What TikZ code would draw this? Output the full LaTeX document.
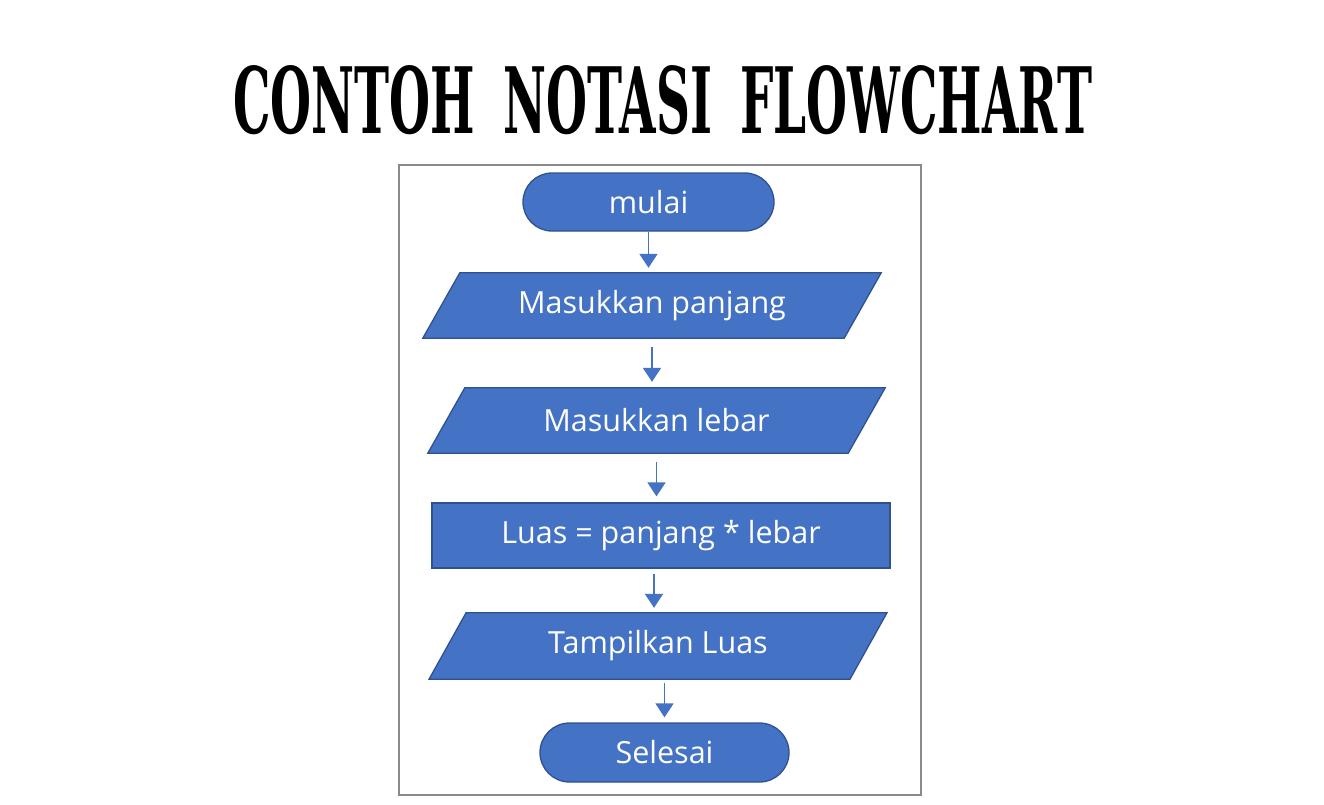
\documentclass[tikz,border=0pt]{standalone}
\usepackage{fontspec}
\usetikzlibrary{arrows.meta}
\setmainfont{Open Sans}
\newfontfamily\titlefont{DejaVu Serif}
\definecolor{ofblue}{HTML}{4472C4}
\definecolor{ofedge}{HTML}{2F528F}
\definecolor{framegray}{HTML}{8A8A8A}
\pgfdeclarelayer{bg}
\pgfsetlayers{bg,main}
\tikzset{
  lbl/.style={text=white,font=\fontsize{30.5}{34}\selectfont,inner sep=0pt},
  term/.style={lbl,rectangle,fill=ofblue,draw=ofedge,line width=1.3pt,rounded corners=29pt,minimum height=58pt},
  procbox/.style={lbl,rectangle,fill=ofblue,draw=ofedge,line width=1.3pt,minimum height=65pt},
  iobox/.style={lbl,rectangle,minimum height=65pt},
  ioshape/.style={fill=ofblue,draw=ofedge,line width=1.3pt,line join=miter},
  arr/.style={draw=ofblue,line width=1.8pt,-{Triangle[length=14pt,width=18pt]}},
}
\begin{document}
\begin{tikzpicture}[x=1pt,y=-1pt]
\useasboundingbox (0,0) rectangle (1324,804);
% title
\node[inner sep=0pt,anchor=north west] (title) at (233,65)
  {\resizebox{859pt}{68pt}{\titlefont\bfseries CONTOH\hspace{0.6em}NOTASI\hspace{0.6em}FLOWCHART}};
% frame
\draw[framegray,line width=2.5pt] (399,165) rectangle (921,795);
% nodes
\node[term,minimum width=251pt] (n1) at (648.5,202) {mulai};
\node[iobox,minimum width=421pt] (p1) at (652,305.5) {Masukkan panjang};
\node[iobox,minimum width=420pt] (p2) at (656.5,420.5) {Masukkan lebar};
\node[procbox,minimum width=458pt] (r1) at (661,535.5) {Luas = panjang * lebar};
\node[iobox,minimum width=420.5pt,minimum height=66pt] (p3) at (658,646) {Tampilkan Luas};
\node[term,minimum width=249pt,minimum height=59pt,rounded corners=29.5pt] (s1) at (664.5,752.5) {Selesai};
\begin{pgfonlayer}{bg}
\fill[white] (0,0) rectangle (1324,804);
\foreach \p in {p1,p2,p3}{
  \draw[ioshape] ([xshift=18.5pt]\p.north west) -- ([xshift=18.5pt]\p.north east)
    -- ([xshift=-18.5pt]\p.south east) -- ([xshift=-18.5pt]\p.south west) -- cycle;
}
\end{pgfonlayer}
% connectors
\draw[arr,shorten >=5pt] (n1.south) -- (n1.south |- p1.north);
\draw[arr,shorten <=9pt,shorten >=6pt] (p1.south) -- (p1.south |- p2.north);
\draw[arr,shorten <=9pt,shorten >=6pt] (p2.south) -- (p2.south |- r1.north);
\draw[arr,shorten <=5pt,shorten >=5pt] ([xshift=-7pt]r1.south) -- ([xshift=-7pt]r1.south |- p3.north);
\draw[arr,shorten <=4pt,shorten >=5pt] (p3.south -| s1.north) -- (s1.north);
\end{tikzpicture}
\end{document}
